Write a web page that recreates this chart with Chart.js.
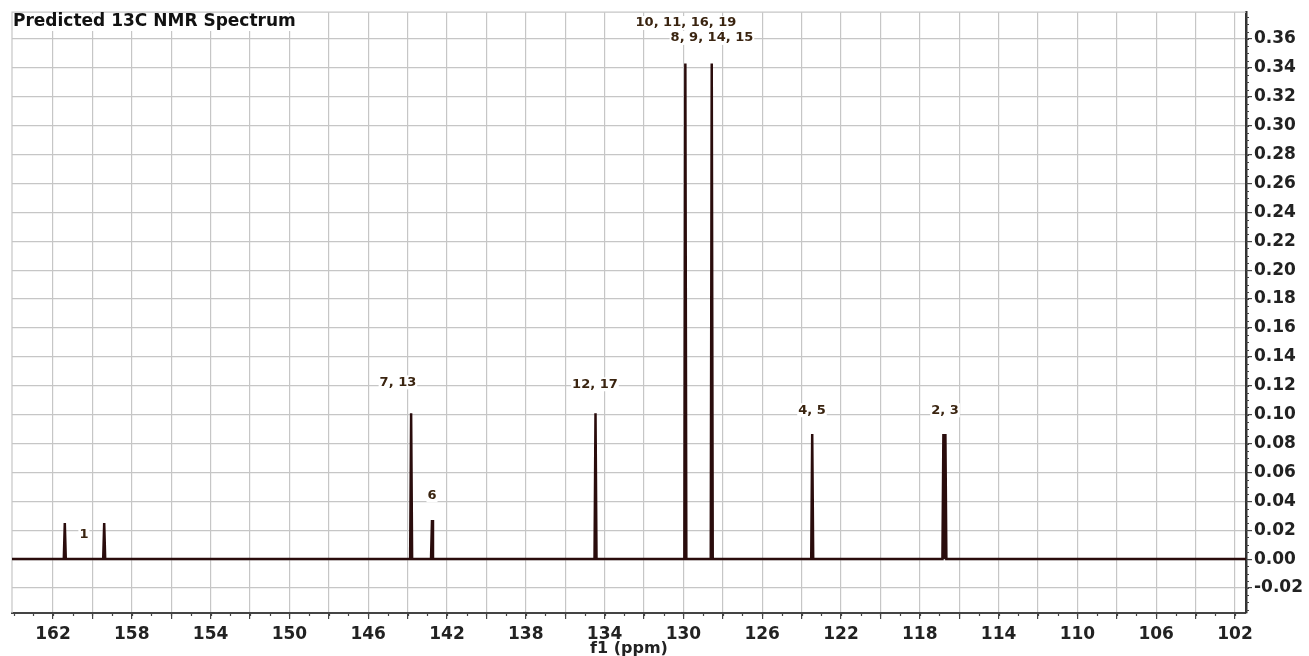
<!DOCTYPE html>
<html><head><meta charset="utf-8">
<script src="https://cdn.jsdelivr.net/npm/chart.js@4.4.1/dist/chart.umd.min.js"></script>
<style>html,body{margin:0;padding:0;background:#fff;} #wrap{width:1309px;height:656px;position:relative;}</style>
</head><body><div id="wrap"><canvas id="c"></canvas></div>
<script>
// Peak positions (ppm) and intensities
const peakShifts  = [161.40, 159.40, 143.82, 142.76, 134.46, 129.90, 128.56, 123.46, 116.80, 116.70];
const peakHeights = [0.025, 0.025, 0.101, 0.027, 0.101, 0.343, 0.343, 0.0865, 0.0865, 0.0865];
// Peak annotation labels
const peakLabels   = ['1', '7, 13', '6', '12, 17', '10, 11, 16, 19', '8, 9, 14, 15', '4, 5', '2, 3'];
const labelShifts  = [160.43, 144.49, 142.76, 134.49, 129.87, 128.55, 123.47, 116.72];
const labelHeights = [0.0166, 0.1223, 0.0442, 0.121, 0.371, 0.3607, 0.103, 0.103];
// Axis ticks
const xGridTicks  = [102,104,106,108,110,112,114,116,118,120,122,124,126,128,130,132,134,136,138,140,142,144,146,148,150,152,154,156,158,160,162];
const xTickLabels = [162,158,154,150,146,142,138,134,130,126,122,118,114,110,106,102];
const yTicks      = [-0.02,0.00,0.02,0.04,0.06,0.08,0.10,0.12,0.14,0.16,0.18,0.20,0.22,0.24,0.26,0.28,0.30,0.32,0.34,0.36];
const titleText = 'Predicted 13C NMR Spectrum';
const xAxisTitle = 'f1 (ppm)';

const X_MAX = 164.08, X_MIN = 101.44;
const HALF = 0.05;

// Build the stick spectrum polyline from the peaks
const spectrum = [{x: X_MAX, y: 0}];
peakShifts.forEach((p, i) => {
  spectrum.push({x: p + HALF, y: 0});
  spectrum.push({x: p, y: peakHeights[i]});
  spectrum.push({x: p - HALF, y: 0});
});
spectrum.push({x: X_MIN, y: 0});
spectrum.sort((a, b) => b.x - a.x);

const FONT = '"DejaVu Sans", Verdana, sans-serif';

const decor = {
  id: 'decor',
  beforeDatasetsDraw(chart) {
    const {ctx, chartArea: a} = chart;
    ctx.save();
    ctx.strokeStyle = '#c6c6c6';
    ctx.lineWidth = 1.2;
    ctx.beginPath();
    ctx.moveTo(a.left, a.bottom); ctx.lineTo(a.left, a.top); ctx.lineTo(a.right, a.top);
    ctx.stroke();
    ctx.restore();
  },
  afterDraw(chart) {
    const {ctx, chartArea: a, scales: {x, y}} = chart;
    ctx.save();
    // minor ticks
    ctx.strokeStyle = '#444';
    ctx.lineWidth = 1.2;
    ctx.beginPath();
    for (let v = 102; v <= 164; v += 1) {
      const px = Math.round(x.getPixelForValue(v)) + 0.5;
      if (px < a.left || px > a.right) continue;
      ctx.moveTo(px, a.bottom); ctx.lineTo(px, a.bottom + 3);
    }
    for (let k = -7; k <= 75; k++) {
      const v = k * 0.005;
      const py = Math.round(y.getPixelForValue(v)) + 0.5;
      if (py < a.top || py > a.bottom) continue;
      ctx.moveTo(a.right, py); ctx.lineTo(a.right + 3, py);
    }
    ctx.stroke();
    // title
    ctx.font = 'bold 17px ' + FONT;
    ctx.textBaseline = 'middle';
    ctx.textAlign = 'left';
    const tw = ctx.measureText(titleText).width;
    ctx.fillStyle = '#fff';
    ctx.fillRect(a.left + 1, 14, tw + 4, 17);
    ctx.fillStyle = '#111';
    ctx.fillText(titleText, a.left + 1, 22);
    // peak labels
    ctx.font = 'bold 13px ' + FONT;
    ctx.textAlign = 'center';
    peakLabels.forEach((t, i) => {
      const px = x.getPixelForValue(labelShifts[i]);
      const py = y.getPixelForValue(labelHeights[i]);
      const w = ctx.measureText(t).width;
      ctx.fillStyle = '#fff';
      ctx.fillRect(px - w / 2 - 1, py - 7, w + 2, 14);
      ctx.fillStyle = '#3a2410';
      ctx.fillText(t, px, py);
    });
    ctx.restore();
  }
};

new Chart(document.getElementById('c'), {
  type: 'line',
  data: {
    datasets: [{
      data: spectrum,
      borderColor: '#2a0c0c',
      borderWidth: 2.5,
      pointRadius: 0,
      tension: 0,
      fill: false
    }]
  },
  options: {
    responsive: true,
    maintainAspectRatio: false,
    animation: false,
    layout: {padding: {left: 12, top: 12, right: 0, bottom: 0}},
    plugins: {legend: {display: false}, tooltip: {enabled: false}},
    scales: {
      x: {
        type: 'linear',
        reverse: true,
        min: X_MIN, max: X_MAX,
        afterBuildTicks: s => { s.ticks = xGridTicks.map(v => ({value: v})); },
        afterFit: s => { s.height = 43; },
        ticks: {
          autoSkip: false, maxRotation: 0, minRotation: 0,
          callback: v => xTickLabels.includes(v) ? String(v) : '',
          font: {family: FONT, weight: 'bold', size: 17},
          color: '#222', padding: 5
        },
        grid: {color: '#c6c6c6', lineWidth: 1.2, tickLength: 6, tickColor: '#444', tickWidth: 1.2},
        border: {color: '#444', width: 2},
        title: {display: true, text: xAxisTitle, color: '#222',
          font: {family: FONT, weight: 'bold', size: 16}, padding: {top: 0, bottom: -2}}
      },
      y: {
        position: 'right',
        min: -0.0373, max: 0.3785,
        afterBuildTicks: s => { s.ticks = yTicks.map(v => ({value: v})); },
        afterFit: s => { s.width = 63; },
        ticks: {
          callback: v => v.toFixed(2),
          font: {family: FONT, weight: 'bold', size: 17},
          color: '#222', padding: 2
        },
        grid: {color: '#c6c6c6', lineWidth: 1.2, tickLength: 6, tickColor: '#444', tickWidth: 1.2},
        border: {color: '#333', width: 2.5}
      }
    }
  },
  plugins: [decor]
});
</script>
</body></html>
